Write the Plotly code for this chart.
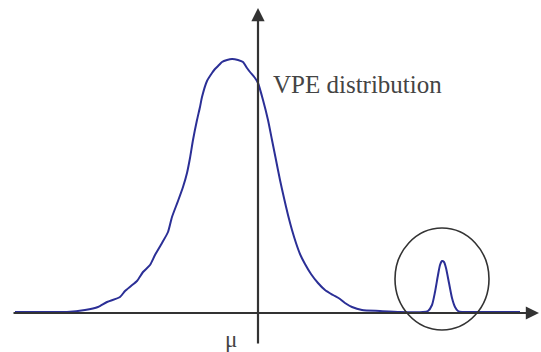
import plotly.graph_objects as go

# curve: offset from the vertical axis, height above the horizontal axis
vpe_x = [-243, -218, -191, -173, -160, -151, -138, -133, -127, -121, -115, -108,
         -103, -96, -90, -86, -80, -75, -71, -68, -65, -61, -58, -56, -51, -46,
         -43, -39, -36, -31, -26, -20, -15, -11, -8, -3, 0, 5, 10, 14, 18, 22,
         26, 30, 34, 38, 42, 47, 53, 60, 67, 75, 82, 87, 94, 104, 122, 142, 165,
         170, 174, 177, 180, 182, 184, 186, 188, 191, 194, 197, 200, 204, 222, 262]
vpe_y = [1, 1, 1, 3, 6, 11, 16, 22, 27, 32, 41, 48,
         58, 70, 81, 96, 112, 126, 140, 155, 173, 193, 206, 216, 232, 240,
         244, 248, 251, 253, 254, 253, 251, 245, 241, 235, 230, 213, 193, 173, 153, 133,
         115, 98, 83, 70, 59, 49, 39, 30, 23, 18, 14, 10, 6, 3, 2, 1, 1,
         2, 8, 21, 38, 48, 52, 51, 45, 30, 15, 6, 2, 1, 1, 1]

AXIS_COLOR = "#333333"
CURVE_COLOR = "#2b2f96"
FONT = "Liberation Serif"

fig = go.Figure()
fig.add_trace(go.Scatter(
    x=vpe_x, y=vpe_y, mode="lines",
    line=dict(color=CURVE_COLOR, width=2, shape="spline", smoothing=0.6),
    hoverinfo="skip", showlegend=False,
))

# axes with arrowheads
fig.add_annotation(x=281, y=0, ax=-246, ay=0, xref="x", yref="y", axref="x", ayref="y",
                   text="", showarrow=True, arrowhead=2, arrowsize=1.2, arrowwidth=2.2,
                   arrowcolor=AXIS_COLOR)
fig.add_annotation(x=0, y=305, ax=0, ay=-32, xref="x", yref="y", axref="x", ayref="y",
                   text="", showarrow=True, arrowhead=2, arrowsize=1.2, arrowwidth=2.2,
                   arrowcolor=AXIS_COLOR)

# circle round the small peak
fig.add_shape(type="circle", xref="x", yref="y", x0=137, x1=231, y0=-17, y1=85,
              line=dict(color=AXIS_COLOR, width=1.6))

fig.add_annotation(x=13, y=229, xref="x", yref="y", text="VPE distribution",
                   showarrow=False, xanchor="left", yanchor="middle",
                   font=dict(family=FONT, size=25, color="#444444"))
fig.add_annotation(x=-27, y=-26, xref="x", yref="y", text="μ",
                   showarrow=False, xanchor="center", yanchor="middle",
                   font=dict(family=FONT, size=23, color="#444444"))

fig.update_xaxes(range=[-258, 283], visible=False, fixedrange=True)
fig.update_yaxes(range=[-39, 313], visible=False, fixedrange=True)
fig.update_layout(
    width=541, height=352,
    margin=dict(l=0, r=0, t=0, b=0),
    plot_bgcolor="white", paper_bgcolor="white",
)

fig.write_html("out.html", config={"displayModeBar": False},
               post_script="document.body.style.margin='0';")
